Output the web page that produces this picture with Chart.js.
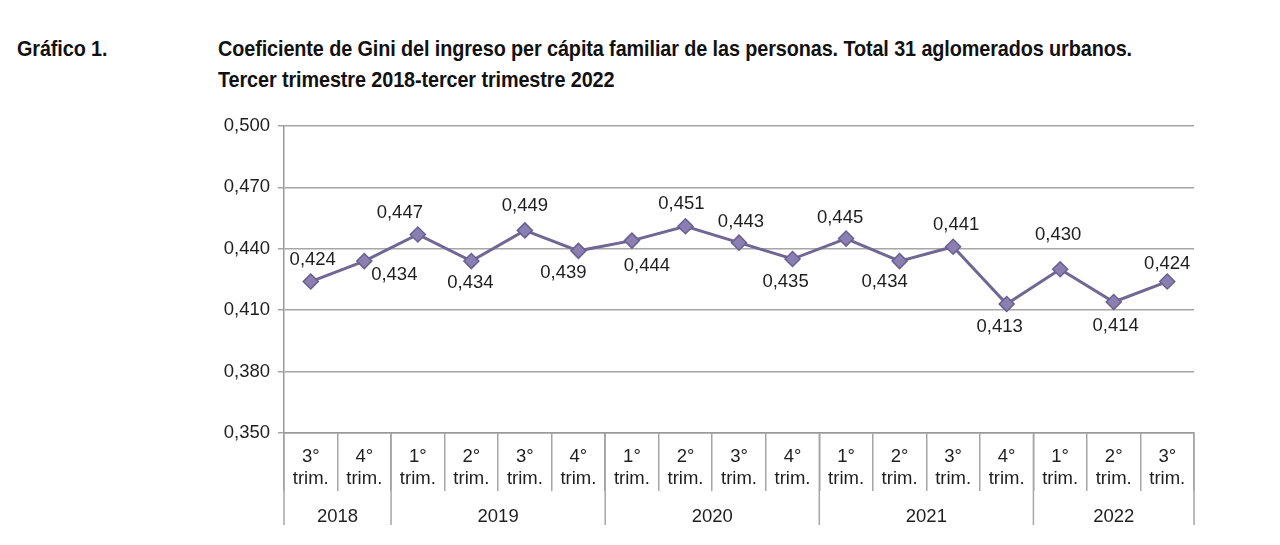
<!DOCTYPE html>
<html lang="es">
<head>
<meta charset="utf-8">
<title>Coeficiente de Gini</title>
<script src="https://cdn.jsdelivr.net/npm/chart.js@4.4.1/dist/chart.umd.min.js"></script>
<style>
  body { margin: 0; background: #fff; }
  #wrap { position: relative; width: 1280px; height: 545px; overflow: hidden; }
  .tit { position: absolute; top: 33px; font-family: "Liberation Sans", Arial, sans-serif;
         font-weight: bold; font-size: 22px; line-height: 31px; color: #111; white-space: nowrap;
         transform: scaleX(0.9); transform-origin: left top; letter-spacing: -0.1px; }
  canvas { position: absolute; left: 0; top: 0; }
</style>
</head>
<body>
<div id="wrap">
  <div class="tit" style="left:17px">Gráfico 1.</div>
  <div class="tit" style="left:218px">Coeficiente de Gini del ingreso per cápita familiar de las personas. Total 31 aglomerados urbanos.<br>Tercer trimestre 2018-tercer trimestre 2022</div>
  <canvas id="grafico" width="1280" height="545"></canvas>
</div>
<script>
// datos
const trimestres = ['3°', '4°', '1°', '2°', '3°', '4°', '1°', '2°', '3°', '4°', '1°', '2°', '3°', '4°', '1°', '2°', '3°'];
const anios = ['2018', '2019', '2020', '2021', '2022'];
const trimPorAnio = [2, 4, 4, 4, 3];
const gini = [0.424, 0.434, 0.447, 0.434, 0.449, 0.439, 0.444, 0.451, 0.443, 0.435, 0.445, 0.434, 0.441, 0.413, 0.430, 0.414, 0.424];
const yTicks = [0.350, 0.380, 0.410, 0.440, 0.470, 0.500];

// desplazamiento de cada etiqueta respecto del punto (solo estilo)
const posEtiqueta = [[2, -22], [30, 14], [-18, -22], [-1, 22], [0, -24], [-15, 22], [15, 25], [-4, -22], [2, -21],
                     [-7, 23], [-6, -21], [-15, 21], [3, -22], [-7, 23], [-2, -34], [2, 24], [0, -18]];

const fmt = v => v.toFixed(3).replace('.', ',');
const fuente = { family: '"Liberation Sans", Arial, sans-serif', size: 18.5 };
const fuenteCss = '18.5px "Liberation Sans", Arial, sans-serif';

const etiquetas = {
  id: 'etiquetas',
  afterDatasetsDraw(chart) {
    const ctx = chart.ctx;
    const meta = chart.getDatasetMeta(0);
    ctx.save();
    ctx.font = fuenteCss;
    ctx.fillStyle = '#1e1e1e';
    ctx.textAlign = 'center';
    ctx.textBaseline = 'middle';
    meta.data.forEach((pt, i) => {
      ctx.fillText(fmt(gini[i]), pt.x + posEtiqueta[i][0], pt.y + posEtiqueta[i][1]);
    });
    ctx.restore();
  }
};

const aniosEje = {
  id: 'aniosEje',
  afterDraw(chart) {
    const ctx = chart.ctx;
    const x = chart.scales.x;
    const top = x.top;
    ctx.save();
    ctx.strokeStyle = '#a6a6a6';
    ctx.lineWidth = 1.5;
    ctx.font = fuenteCss;
    ctx.fillStyle = '#1e1e1e';
    ctx.textAlign = 'center';
    ctx.textBaseline = 'middle';
    let idx = 0;
    const bordes = [x.getPixelForValue(-0.5)];
    anios.forEach((a, k) => {
      const ini = x.getPixelForValue(idx - 0.5);
      idx += trimPorAnio[k];
      const fin = x.getPixelForValue(idx - 0.5);
      bordes.push(fin);
      ctx.fillText(a, (ini + fin) / 2, top + 84);
    });
    bordes.forEach(b => {
      ctx.beginPath();
      ctx.moveTo(b, top);
      ctx.lineTo(b, top + 92);
      ctx.stroke();
    });
    ctx.restore();
  }
};

new Chart(document.getElementById('grafico').getContext('2d'), {
  type: 'line',
  data: {
    labels: trimestres.map(t => [t, 'trim.']),
    datasets: [{
      data: gini,
      borderColor: '#716794',
      borderWidth: 3,
      pointStyle: 'rectRot',
      pointRadius: 7.5,
      pointBackgroundColor: '#8a7fb0',
      pointBorderColor: '#6a5f92',
      pointBorderWidth: 1.5,
      tension: 0
    }]
  },
  options: {
    responsive: false,
    animation: false,
    layout: { padding: { left: 0, top: 126, right: 86, bottom: 0 } },
    plugins: { legend: { display: false }, tooltip: { enabled: false } },
    scales: {
      x: {
        offset: true,
        afterFit: s => { s.height = 112; },
        grid: { offset: true, drawOnChartArea: false, tickLength: 58, color: '#a6a6a6', lineWidth: 1.5 },
        border: { color: '#999', width: 1.5 },
        ticks: { autoSkip: false, maxRotation: 0, padding: -45, color: '#1e1e1e', font: fuente }
      },
      y: {
        min: 0.35,
        max: 0.5,
        afterFit: s => { s.width = 284; },
        afterBuildTicks: s => { s.ticks = yTicks.map(v => ({ value: v })); },
        grid: { color: '#a6a6a6', lineWidth: 1.5, tickLength: 6 },
        border: { color: '#999', width: 1.5 },
        ticks: { padding: 8, color: '#1e1e1e', font: fuente, callback: v => fmt(v) }
      }
    }
  },
  plugins: [etiquetas, aniosEje]
});
</script>
</body>
</html>
